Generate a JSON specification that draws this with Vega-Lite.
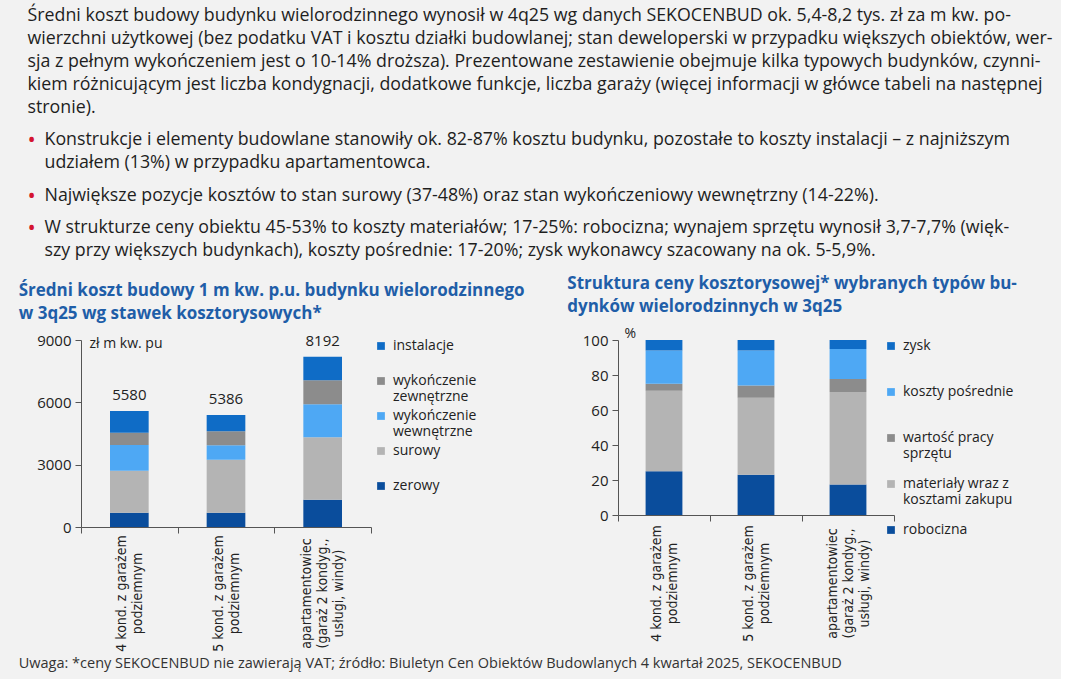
{
  "$schema": "https://vega.github.io/schema/vega-lite/v6.json",
  "background": "#f2f2f2",
  "padding": {"left": 18, "top": 7, "right": 8, "bottom": 8},
  "config": {
    "view": {"stroke": null},
    "font": "Open Sans",
    "axis": {"labelFont": "Open Sans", "titleFont": "Open Sans", "labelColor": "#222222", "titleColor": "#222222", "domainColor": "#555555", "tickColor": "#555555", "grid": false},
    "legend": {"labelFont": "Open Sans", "labelColor": "#222222"}
  },
  "title": {"text": "Uwaga: *ceny SEKOCENBUD nie zawierają VAT; źródło: Biuletyn Cen Obiektów Budowlanych 4 kwartał 2025, SEKOCENBUD", "orient": "bottom", "anchor": "start", "offset": 6, "font": "Open Sans", "fontSize": 14.5, "fontWeight": "normal", "color": "#333333"},
  "spacing": 15,
  "vconcat": [
    {
      "width": 960,
      "height": 207,
      "data": {"values": [
        {"block": 0, "line": 1, "kind": "p", "text": "Średni koszt budowy budynku wielorodzinnego wynosił w 4q25 wg danych SEKOCENBUD ok. 5,4-8,2 tys. zł za m kw. po-"},
        {"block": 0, "line": 2, "kind": "p", "text": "wierzchni użytkowej (bez podatku VAT i kosztu działki budowlanej; stan deweloperski w przypadku większych obiektów, wer-"},
        {"block": 0, "line": 3, "kind": "p", "text": "sja z pełnym wykończeniem jest o 10-14% droższa). Prezentowane zestawienie obejmuje kilka typowych budynków, czynni-"},
        {"block": 0, "line": 4, "kind": "p", "text": "kiem różnicującym jest liczba kondygnacji, dodatkowe funkcje, liczba garaży (więcej informacji w główce tabeli na następnej"},
        {"block": 0, "line": 5, "kind": "p", "text": "stronie)."},
        {"block": 1, "line": 6, "kind": "b", "first": true, "text": "Konstrukcje i elementy budowlane stanowiły ok. 82-87% kosztu budynku, pozostałe to koszty instalacji – z najniższym"},
        {"block": 1, "line": 7, "kind": "b", "text": "udziałem (13%) w przypadku apartamentowca."},
        {"block": 2, "line": 8, "kind": "b", "first": true, "text": "Największe pozycje kosztów to stan surowy (37-48%) oraz stan wykończeniowy wewnętrzny (14-22%)."},
        {"block": 3, "line": 9, "kind": "b", "first": true, "text": "W strukturze ceny obiektu 45-53% to koszty materiałów; 17-25%: robocizna; wynajem sprzętu wynosił 3,7-7,7% (więk-"},
        {"block": 3, "line": 10, "kind": "b", "text": "szy przy większych budynkach), koszty pośrednie: 17-20%; zysk wykonawcy szacowany na ok. 5-5,9%."}
      ]},
      "encoding": {
        "y": {"field": "line", "type": "ordinal", "scale": {"type": "point", "padding": 0}, "axis": null},
        "yOffset": {"field": "block", "type": "ordinal", "scale": {"type": "point", "padding": 0, "range": [0, 28]}}
      },
      "layer": [
        {
          "mark": {"type": "text", "align": "left", "baseline": "middle", "fontSize": 17.8, "color": "#1e1e1e", "font": "Open Sans"},
          "encoding": {
            "x": {"field": "kind", "type": "nominal", "scale": {"type": "point", "domain": ["p", "b"], "range": [-62, -28]}, "axis": null},
            "text": {"field": "text"}
          }
        },
        {
          "transform": [{"filter": "datum.first"}],
          "mark": {"type": "text", "align": "left", "baseline": "middle", "fontSize": 22, "color": "#d4142f", "text": "•"},
          "encoding": {"x": {"datum": "p", "type": "nominal"}}
        }
      ]
    },
    {
      "bounds": "flush",
      "spacing": 247,
      "resolve": {"scale": {"color": "independent"}, "legend": {"color": "independent"}},
      "hconcat": [
        {
          "width": 290,
          "height": 187,
          "title": {"text": ["Średni koszt budowy 1 m kw. p.u. budynku wielorodzinnego", "w 3q25 wg stawek kosztorysowych*"], "anchor": "start", "dx": -18, "offset": 10, "font": "Open Sans", "fontSize": 17, "fontWeight": "bold", "color": "#1f5ea8", "lineHeight": 23},
          "data": {"values": [
            {"b": "4 kond. z garażem podziemnym", "c": "zerowy", "v": 680},
            {"b": "4 kond. z garażem podziemnym", "c": "surowy", "v": 2030},
            {"b": "4 kond. z garażem podziemnym", "c": "wykończenie wewnętrzne", "v": 1240},
            {"b": "4 kond. z garażem podziemnym", "c": "wykończenie zewnętrzne", "v": 590},
            {"b": "4 kond. z garażem podziemnym", "c": "instalacje", "v": 1040},
            {"b": "5 kond. z garażem podziemnym", "c": "zerowy", "v": 680},
            {"b": "5 kond. z garażem podziemnym", "c": "surowy", "v": 2560},
            {"b": "5 kond. z garażem podziemnym", "c": "wykończenie wewnętrzne", "v": 700},
            {"b": "5 kond. z garażem podziemnym", "c": "wykończenie zewnętrzne", "v": 670},
            {"b": "5 kond. z garażem podziemnym", "c": "instalacje", "v": 776},
            {"b": "apartamentowiec (garaż 2 kondyg., usługi, windy)", "c": "zerowy", "v": 1310},
            {"b": "apartamentowiec (garaż 2 kondyg., usługi, windy)", "c": "surowy", "v": 3010},
            {"b": "apartamentowiec (garaż 2 kondyg., usługi, windy)", "c": "wykończenie wewnętrzne", "v": 1590},
            {"b": "apartamentowiec (garaż 2 kondyg., usługi, windy)", "c": "wykończenie zewnętrzne", "v": 1150},
            {"b": "apartamentowiec (garaż 2 kondyg., usługi, windy)", "c": "instalacje", "v": 1132}
          ]},
          "encoding": {
            "x": {"field": "b", "type": "nominal", "sort": null, "scale": {"paddingInner": 0, "paddingOuter": 0},
              "axis": {"title": null, "labelAngle": -90, "labelAlign": "center", "labelBaseline": "middle", "labelPadding": 60, "tickBand": "extent", "tickSize": 6, "labelFont": "DejaVu Sans Condensed, Roboto", "labelFontSize": 14, "labelLineHeight": 16, "labelOverlap": false, "labelLimit": 0,
                "labelOffset": {"condition": {"test": "datum.label == 'apartamentowiec (garaż 2 kondyg., usługi, windy)'", "value": -16}, "value": -8},
                "labelExpr": "!datum.label ? '' : indexof(datum.label, 'apartamentowiec') == 0 ? ['apartamentowiec', '(garaż 2 kondyg.,', 'usługi, windy)'] : [replace(datum.label, ' podziemnym', ''), 'podziemnym']"}}
          },
          "layer": [
            {
              "transform": [{"calculate": "indexof(['zerowy', 'surowy', 'wykończenie wewnętrzne', 'wykończenie zewnętrzne', 'instalacje'], datum.c)", "as": "k"}],
              "mark": {"type": "bar", "width": {"band": 0.4}},
              "encoding": {
                "y": {"field": "v", "type": "quantitative", "stack": "zero", "scale": {"domain": [0, 9000], "nice": false},
                  "axis": {"title": "zł  m kw. pu", "titleAngle": 0, "titleAlign": "left", "titleBaseline": "middle", "titleX": 8, "titleY": 3, "titleFontWeight": "normal", "titleFontSize": 14, "values": [0, 3000, 6000, 9000], "format": "d", "tickSize": 6, "labelPadding": 4, "labelFontSize": 15}},
                "order": {"field": "k", "type": "quantitative"},
                "color": {"field": "c", "type": "nominal", "sort": ["zerowy", "surowy", "wykończenie wewnętrzne", "wykończenie zewnętrzne", "instalacje"],
                  "scale": {"range": ["#0a4d9c", "#b4b4b4", "#4ea8f4", "#8c8c8c", "#0f6cc6"]},
                  "legend": {"title": null, "orient": "none", "legendX": 293, "legendY": -1, "symbolType": "square", "symbolSize": 60, "symbolStrokeWidth": 0, "labelFontSize": 14, "labelLineHeight": 18, "gridAlign": "all", "rowPadding": 5, "labelOffset": 5,
                    "values": ["instalacje", "wykończenie zewnętrzne", "wykończenie wewnętrzne", "surowy", "zerowy"],
                    "labelExpr": "split(datum.label, ' ')"}}
              }
            },
            {
              "mark": {"type": "text", "baseline": "bottom", "dy": -8, "fontSize": 15, "color": "#222222"},
              "encoding": {
                "y": {"aggregate": "sum", "field": "v", "type": "quantitative"},
                "text": {"aggregate": "sum", "field": "v", "type": "quantitative", "format": "d"}
              }
            }
          ]
        },
        {
          "width": 276,
          "height": 175,
          "title": {"text": ["Struktura ceny kosztorysowej* wybranych typów bu-", "dynków wielorodzinnych w 3q25"], "anchor": "start", "dx": -15, "offset": 10, "font": "Open Sans", "fontSize": 17, "fontWeight": "bold", "color": "#1f5ea8", "lineHeight": 23},
          "data": {"values": [
            {"b": "4 kond. z garażem podziemnym", "c": "robocizna", "v": 25},
            {"b": "4 kond. z garażem podziemnym", "c": "materiały wraz z kosztami zakupu", "v": 46},
            {"b": "4 kond. z garażem podziemnym", "c": "wartość pracy sprzętu", "v": 4},
            {"b": "4 kond. z garażem podziemnym", "c": "koszty pośrednie", "v": 19},
            {"b": "4 kond. z garażem podziemnym", "c": "zysk", "v": 6},
            {"b": "5 kond. z garażem podziemnym", "c": "robocizna", "v": 23},
            {"b": "5 kond. z garażem podziemnym", "c": "materiały wraz z kosztami zakupu", "v": 44},
            {"b": "5 kond. z garażem podziemnym", "c": "wartość pracy sprzętu", "v": 7},
            {"b": "5 kond. z garażem podziemnym", "c": "koszty pośrednie", "v": 20},
            {"b": "5 kond. z garażem podziemnym", "c": "zysk", "v": 6},
            {"b": "apartamentowiec (garaż 2 kondyg., usługi, windy)", "c": "robocizna", "v": 17.5},
            {"b": "apartamentowiec (garaż 2 kondyg., usługi, windy)", "c": "materiały wraz z kosztami zakupu", "v": 52.8},
            {"b": "apartamentowiec (garaż 2 kondyg., usługi, windy)", "c": "wartość pracy sprzętu", "v": 7.4},
            {"b": "apartamentowiec (garaż 2 kondyg., usługi, windy)", "c": "koszty pośrednie", "v": 17.2},
            {"b": "apartamentowiec (garaż 2 kondyg., usługi, windy)", "c": "zysk", "v": 5.1}
          ]},
          "transform": [{"calculate": "indexof(['robocizna', 'materiały wraz z kosztami zakupu', 'wartość pracy sprzętu', 'koszty pośrednie', 'zysk'], datum.c)", "as": "k"}],
          "mark": {"type": "bar", "width": {"band": 0.4}},
          "encoding": {
            "x": {"field": "b", "type": "nominal", "sort": null, "scale": {"paddingInner": 0, "paddingOuter": 0},
              "axis": {"title": null, "labelAngle": -90, "labelAlign": "center", "labelBaseline": "middle", "labelPadding": 62, "tickBand": "extent", "tickSize": 6, "labelFont": "DejaVu Sans Condensed, Roboto", "labelFontSize": 14, "labelLineHeight": 16, "labelOverlap": false, "labelLimit": 0,
                "labelOffset": {"condition": {"test": "datum.label == 'apartamentowiec (garaż 2 kondyg., usługi, windy)'", "value": -16}, "value": -8},
                "labelExpr": "!datum.label ? '' : indexof(datum.label, 'apartamentowiec') == 0 ? ['apartamentowiec', '(garaż 2 kondyg.,', 'usługi, windy)'] : [replace(datum.label, ' podziemnym', ''), 'podziemnym']"}},
            "y": {"field": "v", "type": "quantitative", "stack": "zero", "scale": {"domain": [0, 100], "nice": false},
              "axis": {"title": "%", "titleAngle": 0, "titleAlign": "left", "titleBaseline": "middle", "titleX": 6, "titleY": -7, "titleFontWeight": "normal", "titleFontSize": 14, "values": [0, 20, 40, 60, 80, 100], "tickSize": 6, "labelPadding": 4, "labelFontSize": 15}},
            "order": {"field": "k", "type": "quantitative"},
            "color": {"field": "c", "type": "nominal", "sort": ["robocizna", "materiały wraz z kosztami zakupu", "wartość pracy sprzętu", "koszty pośrednie", "zysk"],
              "scale": {"range": ["#0a4d9c", "#b4b4b4", "#8c8c8c", "#4ea8f4", "#0f6cc6"]},
              "legend": {"title": null, "orient": "none", "legendX": 266, "legendY": -1, "symbolType": "square", "symbolSize": 60, "symbolStrokeWidth": 0, "labelFontSize": 14, "labelLineHeight": 18, "gridAlign": "all", "rowPadding": 16, "labelOffset": 5,
                "values": ["zysk", "koszty pośrednie", "wartość pracy sprzętu", "materiały wraz z kosztami zakupu", "robocizna"],
                "labelExpr": "datum.label == 'wartość pracy sprzętu' ? ['wartość pracy', 'sprzętu'] : datum.label == 'materiały wraz z kosztami zakupu' ? ['materiały wraz z', 'kosztami zakupu'] : datum.label"}}
          }
        }
      ]
    }
  ]
}
